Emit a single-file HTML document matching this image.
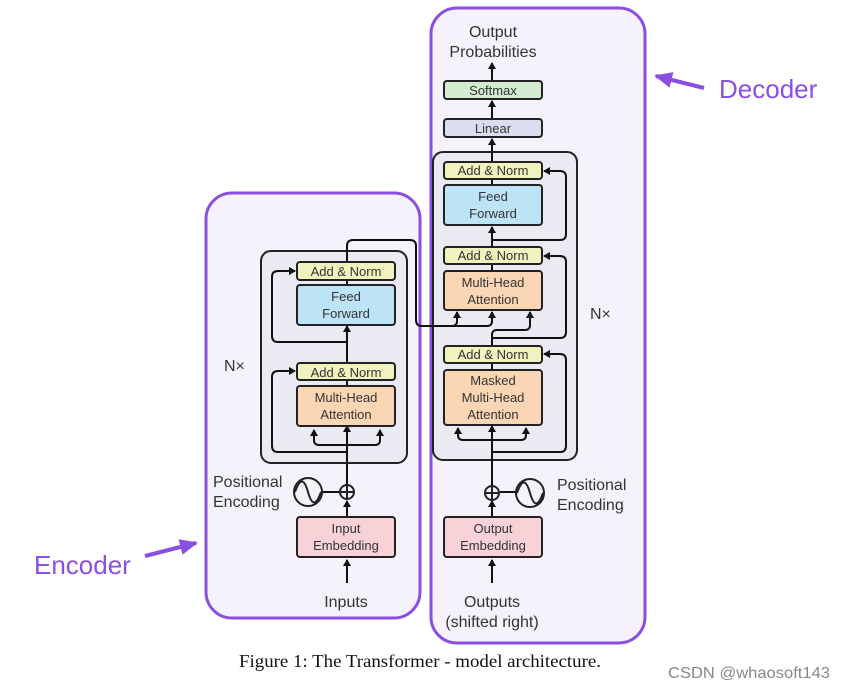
<!DOCTYPE html>
<html><head><meta charset="utf-8"><style>
html,body{margin:0;padding:0;background:#fff;}
svg{display:block;}
text{font-family:"Liberation Sans",sans-serif;}
</style></head><body>
<svg width="844" height="689" viewBox="0 0 844 689" xmlns="http://www.w3.org/2000/svg">
<defs>
<marker id="a" markerWidth="8" markerHeight="8" refX="6" refY="4" orient="auto" markerUnits="userSpaceOnUse"><path d="M0,0 L7,4 L0,8 Z" fill="#111"/></marker>
<marker id="p" markerWidth="20" markerHeight="20" refX="16" refY="10" orient="auto" markerUnits="userSpaceOnUse"><path d="M0,2 L18,10 L0,18 Z" fill="#8a4fe0"/></marker>
</defs>
<rect width="844" height="689" fill="#fff"/>
<rect x="206" y="193" width="214" height="425" rx="26" fill="#f6f2fc" stroke="#8a4fe0" stroke-width="3"/>
<rect x="431" y="8" width="214" height="635" rx="26" fill="#f6f2fc" stroke="#8a4fe0" stroke-width="3"/>
<rect x="261" y="251" width="146" height="212" rx="10" fill="#eaeaf2" stroke="#222" stroke-width="2"/>
<rect x="433" y="152" width="144" height="308" rx="10" fill="#eaeaf2" stroke="#222" stroke-width="2"/>

<g stroke="#111" stroke-width="2" fill="none">
<line x1="347" y1="583" x2="347" y2="560" marker-end="url(#a)"/>
<line x1="347" y1="517" x2="347" y2="501" marker-end="url(#a)"/>
<line x1="347" y1="485" x2="347" y2="426" marker-end="url(#a)"/>
<path d="M347,445 H319 Q314,445 314,440 V430" marker-end="url(#a)"/>
<path d="M347,445 H375 Q380,445 380,440 V430" marker-end="url(#a)"/>
<path d="M347,452 H278 Q272,452 272,446 V377 Q272,371 278,371 H295" marker-end="url(#a)"/>
<line x1="347" y1="386" x2="347" y2="380"/>
<line x1="347" y1="363" x2="347" y2="326" marker-end="url(#a)"/>
<path d="M347,342 H278 Q272,342 272,336 V277 Q272,271 278,271 H295" marker-end="url(#a)"/>
<line x1="347" y1="285" x2="347" y2="280"/>
<path d="M347,262 V246 Q347,240 353,240 H410 Q416,240 416,246 V320 Q416,326 422,326 H452 Q457,326 457,321 V312" marker-end="url(#a)"/>
<path d="M452,326 H487 Q492,326 492,321 V312" marker-end="url(#a)"/>
<line x1="322" y1="492" x2="339" y2="492"/>
<line x1="492" y1="583" x2="492" y2="560" marker-end="url(#a)"/>
<line x1="492" y1="517" x2="492" y2="501" marker-end="url(#a)"/>
<line x1="492" y1="485" x2="492" y2="426" marker-end="url(#a)"/>
<line x1="500" y1="492" x2="516" y2="492"/>
<path d="M492,440 H463 Q458,440 458,435 V428" marker-end="url(#a)"/>
<path d="M492,440 H521 Q526,440 526,435 V428" marker-end="url(#a)"/>
<path d="M492,452 H560 Q566,452 566,446 V360 Q566,354 560,354 H544" marker-end="url(#a)"/>
<line x1="492" y1="370" x2="492" y2="363"/>
<path d="M492,346 V335 Q492,330 497,330 H525 Q530,330 530,325 V312" marker-end="url(#a)"/>
<path d="M492,338 H560 Q566,338 566,332 V262 Q566,256 560,256 H544" marker-end="url(#a)"/>
<line x1="492" y1="271" x2="492" y2="264"/>
<line x1="492" y1="247" x2="492" y2="227" marker-end="url(#a)"/>
<path d="M492,240 H560 Q566,240 566,234 V177 Q566,171 560,171 H544" marker-end="url(#a)"/>
<line x1="492" y1="185" x2="492" y2="179"/>
<line x1="492" y1="162" x2="492" y2="139" marker-end="url(#a)"/>
<line x1="492" y1="119" x2="492" y2="101" marker-end="url(#a)"/>
<line x1="492" y1="81" x2="492" y2="63" marker-end="url(#a)"/>
</g>

<g stroke="#222" stroke-width="2">
<rect x="297" y="262" width="98" height="18" rx="3" fill="#f0f2c0"/>
<rect x="297" y="285" width="98" height="40" rx="3" fill="#bde3f6"/>
<rect x="297" y="363" width="98" height="17" rx="3" fill="#f0f2c0"/>
<rect x="297" y="386" width="98" height="40" rx="3" fill="#fbd6b4"/>
<rect x="297" y="517" width="98" height="40" rx="3" fill="#f7d2d7"/>
<rect x="444" y="81" width="98" height="18" rx="3" fill="#d4ecd2"/>
<rect x="444" y="119" width="98" height="18" rx="3" fill="#dcdcf0"/>
<rect x="444" y="162" width="98" height="17" rx="3" fill="#f0f2c0"/>
<rect x="444" y="185" width="98" height="40" rx="3" fill="#bde3f6"/>
<rect x="444" y="247" width="98" height="17" rx="3" fill="#f0f2c0"/>
<rect x="444" y="271" width="98" height="39" rx="3" fill="#fbd6b4"/>
<rect x="444" y="346" width="98" height="17" rx="3" fill="#f0f2c0"/>
<rect x="444" y="370" width="98" height="55" rx="3" fill="#fbd6b4"/>
<rect x="444" y="517" width="98" height="40" rx="3" fill="#f7d2d7"/>
</g>

<g stroke="#222" stroke-width="2" fill="#f6f2fc">
<circle cx="347" cy="492" r="7"/><line x1="340" y1="492" x2="354" y2="492"/><line x1="347" y1="485" x2="347" y2="499"/>
<circle cx="492" cy="493" r="7"/><line x1="485" y1="493" x2="499" y2="493"/><line x1="492" y1="486" x2="492" y2="500"/>
<circle cx="308" cy="492" r="14"/>
<path d="M295,492 C300,478 304,478 308,492 C312,506 316,506 321,492" fill="none"/>
<circle cx="530" cy="493" r="14"/>
<path d="M517,493 C522,479 526,479 530,493 C534,507 538,507 543,493" fill="none"/>
</g>

<g font-size="13" fill="#333" text-anchor="middle">
<text x="346" y="276">Add &amp; Norm</text>
<text x="346" y="301">Feed</text><text x="346" y="318">Forward</text>
<text x="346" y="377">Add &amp; Norm</text>
<text x="346" y="402">Multi-Head</text><text x="346" y="419">Attention</text>
<text x="346" y="533">Input</text><text x="346" y="550">Embedding</text>
<text x="493" y="95">Softmax</text>
<text x="493" y="133">Linear</text>
<text x="493" y="175">Add &amp; Norm</text>
<text x="493" y="201">Feed</text><text x="493" y="218">Forward</text>
<text x="493" y="260">Add &amp; Norm</text>
<text x="493" y="287">Multi-Head</text><text x="493" y="304">Attention</text>
<text x="493" y="359">Add &amp; Norm</text>
<text x="493" y="385">Masked</text><text x="493" y="402">Multi-Head</text><text x="493" y="419">Attention</text>
<text x="493" y="533">Output</text><text x="493" y="550">Embedding</text>
</g>
<g font-size="16" fill="#333">
<text x="493" y="37" text-anchor="middle">Output</text>
<text x="493" y="57" text-anchor="middle">Probabilities</text>
<text x="213" y="487">Positional</text><text x="213" y="507">Encoding</text>
<text x="557" y="490">Positional</text><text x="557" y="510">Encoding</text>
<text x="346" y="607" text-anchor="middle">Inputs</text>
<text x="492" y="607" text-anchor="middle">Outputs</text>
<text x="492" y="627" text-anchor="middle">(shifted right)</text>
<text x="224" y="371">N×</text>
<text x="590" y="319">N×</text>
</g>

<text x="34" y="574" font-size="26" fill="#8a4fe0">Encoder</text>
<line x1="145" y1="556" x2="196" y2="543" stroke="#8a4fe0" stroke-width="4" marker-end="url(#p)"/>
<text x="719" y="98" font-size="26" fill="#8a4fe0">Decoder</text>
<line x1="704" y1="88" x2="656" y2="76" stroke="#8a4fe0" stroke-width="4" marker-end="url(#p)"/>

<text x="239" y="667" font-size="18" textLength="362" lengthAdjust="spacingAndGlyphs" fill="#111" style="font-family:'Liberation Serif',serif">Figure 1: The Transformer - model architecture.</text>
<text x="668" y="678" font-size="16" textLength="162" lengthAdjust="spacingAndGlyphs" fill="#888">CSDN @whaosoft143</text>
</svg>
</body></html>
